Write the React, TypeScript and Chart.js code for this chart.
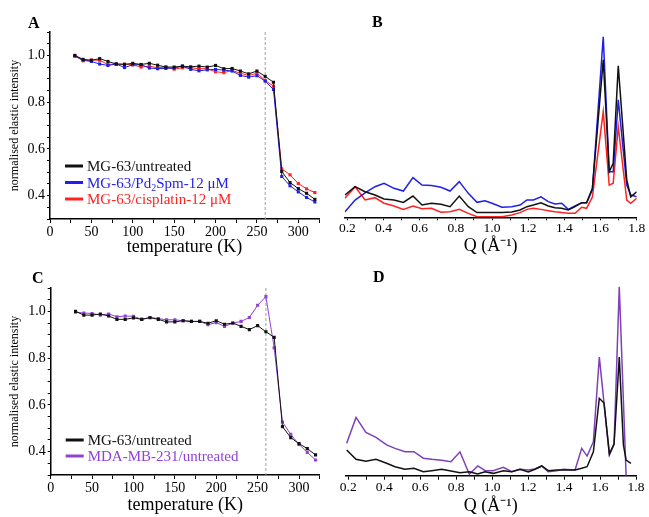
import React, { useEffect, useRef } from 'react';
import { Chart, registerables } from 'chart.js';

Chart.register(...registerables);

const FONT = '"Liberation Serif", "Times New Roman", serif';
Chart.defaults.font.family = FONT;
Chart.defaults.color = '#000';

// ---------- Panel A / C : temperature scans ----------
const tempK = [30, 40, 50, 60, 70, 80, 90, 100, 110, 120, 130, 140, 150, 160, 170, 180, 190, 200, 210, 220, 230, 240, 250, 260, 270, 280, 290, 300, 310, 320];

const aUntreated = [1.0, 0.983, 0.979, 0.986, 0.974, 0.963, 0.961, 0.966, 0.961, 0.966, 0.958, 0.95, 0.95, 0.954, 0.951, 0.954, 0.95, 0.957, 0.943, 0.944, 0.933, 0.921, 0.933, 0.91, 0.885, 0.503, 0.456, 0.43, 0.41, 0.384];
const aPd2Spm = [0.997, 0.979, 0.974, 0.963, 0.957, 0.963, 0.948, 0.96, 0.96, 0.946, 0.943, 0.944, 0.946, 0.954, 0.94, 0.934, 0.938, 0.94, 0.937, 0.933, 0.914, 0.907, 0.913, 0.89, 0.854, 0.482, 0.442, 0.416, 0.392, 0.373];
const aCisplatin = [0.998, 0.977, 0.98, 0.979, 0.961, 0.963, 0.963, 0.96, 0.95, 0.954, 0.947, 0.95, 0.941, 0.947, 0.947, 0.943, 0.943, 0.93, 0.926, 0.936, 0.923, 0.914, 0.923, 0.893, 0.868, 0.515, 0.489, 0.452, 0.429, 0.413];

const cUntreated = [1.0, 0.984, 0.984, 0.989, 0.98, 0.966, 0.966, 0.972, 0.966, 0.973, 0.966, 0.955, 0.955, 0.96, 0.957, 0.957, 0.949, 0.96, 0.945, 0.95, 0.936, 0.922, 0.939, 0.913, 0.889, 0.507, 0.46, 0.434, 0.413, 0.386];
const cMDA = [0.997, 0.993, 0.991, 0.984, 0.989, 0.977, 0.98, 0.979, 0.966, 0.974, 0.969, 0.964, 0.964, 0.96, 0.957, 0.957, 0.943, 0.952, 0.936, 0.949, 0.957, 0.974, 1.026, 1.063, 0.844, 0.527, 0.474, 0.431, 0.397, 0.364];

const transitionK = 260;

// ---------- Panel B / D : Q spectra ----------
const qB = [0.187, 0.243, 0.298, 0.353, 0.403, 0.458, 0.51, 0.563, 0.613, 0.665, 0.718, 0.768, 0.819, 0.869, 0.917, 0.961, 1.0, 1.055, 1.109, 1.155, 1.193, 1.229, 1.271, 1.311, 1.348, 1.385, 1.422, 1.459, 1.496, 1.523, 1.555, 1.615, 1.648, 1.67, 1.698, 1.745, 1.767, 1.8];
const bUntreated = [0.124, 0.17, 0.142, 0.124, 0.102, 0.096, 0.083, 0.118, 0.068, 0.078, 0.072, 0.059, 0.118, 0.059, 0.026, 0.026, 0.026, 0.026, 0.029, 0.041, 0.059, 0.068, 0.081, 0.063, 0.053, 0.05, 0.041, 0.059, 0.081, 0.081, 0.161, 0.874, 0.253, 0.3, 0.841, 0.207, 0.114, 0.142];
const bPd2Spm = [0.031, 0.096, 0.135, 0.17, 0.189, 0.161, 0.146, 0.22, 0.179, 0.176, 0.167, 0.146, 0.198, 0.133, 0.083, 0.092, 0.078, 0.056, 0.059, 0.068, 0.096, 0.096, 0.114, 0.087, 0.074, 0.078, 0.044, 0.063, 0.081, 0.081, 0.152, 1.003, 0.253, 0.253, 0.652, 0.179, 0.124, 0.114];
const bCisplatin = [0.106, 0.17, 0.096, 0.109, 0.078, 0.063, 0.044, 0.063, 0.048, 0.05, 0.028, 0.031, 0.044, 0.022, 0.003, 0.003, 0.003, 0.003, 0.013, 0.026, 0.044, 0.05, 0.044, 0.037, 0.031, 0.026, 0.022, 0.022, 0.056, 0.05, 0.113, 0.587, 0.179, 0.189, 0.503, 0.096, 0.078, 0.106];

const qD = [0.191, 0.243, 0.298, 0.354, 0.413, 0.46, 0.515, 0.565, 0.617, 0.664, 0.719, 0.771, 0.821, 0.873, 0.92, 0.96, 1.006, 1.062, 1.109, 1.155, 1.201, 1.238, 1.276, 1.312, 1.359, 1.396, 1.461, 1.498, 1.528, 1.563, 1.596, 1.622, 1.652, 1.678, 1.707, 1.73, 1.745, 1.772];
const dUntreated = [0.143, 0.091, 0.08, 0.091, 0.069, 0.05, 0.036, 0.041, 0.022, 0.028, 0.036, 0.026, 0.017, 0.022, 0.009, 0.022, 0.013, 0.028, 0.022, 0.036, 0.021, 0.036, 0.054, 0.028, 0.032, 0.032, 0.032, 0.041, 0.05, 0.133, 0.43, 0.404, 0.121, 0.176, 0.659, 0.171, 0.087, 0.069];
const dMDA = [0.18, 0.324, 0.241, 0.213, 0.171, 0.152, 0.133, 0.133, 0.097, 0.091, 0.086, 0.078, 0.133, 0.008, 0.054, 0.029, 0.028, 0.047, 0.022, 0.036, 0.032, 0.037, 0.054, 0.022, 0.028, 0.036, 0.032, 0.152, 0.109, 0.189, 0.659, null, 0.115, 0.176, 1.05, null, 0, null];

// ---------- ticks / labels ----------
const tempTickLabels = [0, 50, 100, 150, 200, 250, 300];
const intensityTickLabels = [0.4, 0.6, 0.8, 1.0];
const qTickLabels = [0.2, 0.4, 0.6, 0.8, 1.0, 1.2, 1.4, 1.6, 1.8];

const labelUntreated = 'MG-63/untreated';
const labelPd2Spm = 'MG-63/Pd₂Spm-12 μM';
const labelCisplatin = 'MG-63/cisplatin-12 μM';
const labelMDA = 'MDA-MB-231/untreated';

const BLACK = '#111111';
const BLUE = '#1f1fe6';
const RED = '#ff2222';
const PURPLE_C = '#9142d6';
const PURPLE_D = '#7e40b8';

function steps(min: number, max: number, step: number): number[] {
  const out: number[] = [];
  const n = Math.round((max - min) / step);
  for (let i = 0; i <= n; i++) out.push(Math.round((min + i * step) * 1000) / 1000);
  return out;
}

const close = (a: number, b: number) => Math.abs(a - b) < 1e-6;

function drawRich(ctx: CanvasRenderingContext2D, text: string, x: number, y: number, size: number) {
  const subs = '₀₁₂₃₄₅₆₇₈₉';
  let cx = x;
  let run = '';
  const flush = () => {
    if (!run) return;
    ctx.font = `${size}px ${FONT}`;
    ctx.fillText(run, cx, y);
    cx += ctx.measureText(run).width;
    run = '';
  };
  for (const ch of text) {
    const i = subs.indexOf(ch);
    if (i >= 0) {
      flush();
      ctx.font = `${Math.round(size * 0.68)}px ${FONT}`;
      ctx.fillText(String(i), cx, y + size * 0.22);
      cx += ctx.measureText(String(i)).width;
    } else run += ch;
  }
  flush();
}

const overlay = {
  id: 'overlay',
  beforeDatasetsDraw(chart: any, _a: any, opts: any) {
    if (opts.marker == null) return;
    const { ctx, chartArea } = chart;
    const x = chart.scales.x.getPixelForValue(opts.marker);
    ctx.save();
    ctx.strokeStyle = '#a0a0a0';
    ctx.lineWidth = 1;
    ctx.setLineDash([3, 2]);
    ctx.beginPath();
    ctx.moveTo(x, chartArea.top);
    ctx.lineTo(x, chartArea.bottom);
    ctx.stroke();
    ctx.restore();
  },
  afterDraw(chart: any, _a: any, opts: any) {
    const { ctx, chartArea } = chart;
    ctx.save();
    ctx.fillStyle = '#000';
    ctx.textBaseline = 'alphabetic';
    ctx.textAlign = 'left';
    ctx.font = `bold 16px ${FONT}`;
    ctx.fillText(opts.letter, opts.letterX, opts.letterY);
    if (opts.legend) {
      const lg = opts.legend;
      chart.data.datasets.forEach((ds: any, i: number) => {
        const y = chartArea.top + lg.top + i * lg.gap;
        ctx.strokeStyle = ds.borderColor;
        ctx.lineWidth = 3;
        ctx.setLineDash([]);
        ctx.beginPath();
        ctx.moveTo(chartArea.left + lg.left, y);
        ctx.lineTo(chartArea.left + lg.left + 18, y);
        ctx.stroke();
        ctx.fillStyle = ds.borderColor;
        drawRich(ctx, ds.label, chartArea.left + lg.left + 22, y + 5, 15);
      });
    }
    ctx.restore();
  },
};

function tempConfig(opts: {
  datasets: any[];
  yWidth: number;
  xHeight: number;
  padding: any;
  titleBottom: number;
  letter: string;
  letterX: number;
  letterY: number;
  legend: any;
}) {
  return {
    type: 'line',
    data: {
      labels: tempK,
      datasets: opts.datasets.map((d) => ({
        label: d.label,
        data: tempK.map((t, i) => ({ x: t, y: d.values[i] })),
        borderColor: d.color,
        backgroundColor: d.color,
        pointBackgroundColor: d.color,
        pointBorderWidth: 0,
        pointStyle: 'rect',
        pointRadius: 2.2,
        borderWidth: 1,
        tension: 0,
        fill: false,
      })),
    },
    options: {
      responsive: false,
      animation: false,
      events: [],
      layout: { padding: opts.padding },
      plugins: {
        legend: { display: false },
        tooltip: { enabled: false },
        overlay: {
          marker: transitionK,
          letter: opts.letter,
          letterX: opts.letterX,
          letterY: opts.letterY,
          legend: opts.legend,
        },
      },
      scales: {
        x: {
          type: 'linear',
          min: 0,
          max: 325,
          afterBuildTicks: (s: any) => {
            s.ticks = steps(0, 325, 25).map((v) => ({ value: v }));
          },
          afterFit: (s: any) => {
            s.height = opts.xHeight;
          },
          ticks: {
            autoSkip: false,
            maxRotation: 0,
            padding: 1,
            font: { size: 14 },
            color: '#000',
            callback: (v: any) => (tempTickLabels.some((t) => close(t, Number(v))) ? String(v) : ''),
          },
          grid: { drawOnChartArea: false, drawTicks: true, tickLength: 4, tickColor: '#000', tickWidth: 1 },
          border: { display: true, color: '#000', width: 1.5 },
          title: {
            display: true,
            text: 'temperature (K)',
            font: { size: 18 },
            color: '#000',
            padding: { top: 0, bottom: opts.titleBottom },
          },
        },
        y: {
          type: 'linear',
          min: 0.3,
          max: 1.1,
          afterBuildTicks: (s: any) => {
            s.ticks = steps(0.3, 1.1, 0.05).map((v) => ({ value: v }));
          },
          afterFit: (s: any) => {
            s.width = opts.yWidth;
          },
          ticks: {
            autoSkip: false,
            padding: 2,
            font: { size: 14 },
            color: '#000',
            callback: (v: any) => {
              const hit = intensityTickLabels.find((t) => close(t, Number(v)));
              return hit !== undefined ? hit.toFixed(1) : '';
            },
          },
          grid: { drawOnChartArea: false, drawTicks: true, tickLength: 3, tickColor: '#000', tickWidth: 1 },
          border: { display: true, color: '#000', width: 1.5 },
          title: {
            display: true,
            text: 'normalised elastic intensity',
            font: { size: 12 },
            color: '#000',
            padding: { top: 8, bottom: 0 },
          },
        },
      },
    },
    plugins: [overlay],
  };
}

function qConfig(opts: {
  q: number[];
  datasets: any[];
  yMax: number;
  xHeight: number;
  padding: any;
  tickLen: number;
  titleBottom: number;
  letter: string;
  letterX: number;
  letterY: number;
}) {
  return {
    type: 'line',
    data: {
      labels: opts.q,
      datasets: opts.datasets.map((d) => ({
        label: d.label,
        data: opts.q.map((q, i) => ({ x: q, y: d.values[i] })),
        borderColor: d.color,
        backgroundColor: d.color,
        pointRadius: 0,
        borderWidth: 1.5,
        tension: 0,
        spanGaps: true,
        fill: false,
      })),
    },
    options: {
      responsive: false,
      animation: false,
      events: [],
      layout: { padding: opts.padding },
      plugins: {
        legend: { display: false },
        tooltip: { enabled: false },
        overlay: { marker: null, letter: opts.letter, letterX: opts.letterX, letterY: opts.letterY, legend: null },
      },
      scales: {
        x: {
          type: 'linear',
          min: 0.185,
          max: 1.8,
          afterBuildTicks: (s: any) => {
            s.ticks = steps(0.2, 1.8, 0.1).map((v) => ({ value: v }));
          },
          afterFit: (s: any) => {
            s.height = opts.xHeight;
          },
          ticks: {
            autoSkip: false,
            maxRotation: 0,
            padding: 0,
            font: { size: 13.5 },
            color: '#000',
            callback: (v: any) => {
              const hit = qTickLabels.find((t) => close(t, Number(v)));
              return hit !== undefined ? hit.toFixed(1) : '';
            },
          },
          grid: { drawOnChartArea: false, drawTicks: true, tickLength: opts.tickLen, tickColor: '#000', tickWidth: 1 },
          border: { display: true, color: '#000', width: 1.5 },
          title: {
            display: true,
            text: 'Q (Å⁻¹)',
            font: { size: 18 },
            color: '#000',
            padding: { top: 0, bottom: opts.titleBottom },
          },
        },
        y: { type: 'linear', display: false, min: 0, max: opts.yMax },
      },
    },
    plugins: [overlay],
  };
}

function Panel(props: { left: number; top: number; width: number; height: number; make: () => any }) {
  const ref = useRef<HTMLCanvasElement>(null);
  useEffect(() => {
    const chart = new Chart(ref.current as HTMLCanvasElement, props.make());
    return () => chart.destroy();
  }, []);
  return (
    <canvas
      ref={ref}
      width={props.width}
      height={props.height}
      style={{ position: 'absolute', left: props.left, top: props.top, width: props.width, height: props.height }}
    />
  );
}

export default function App() {
  return (
    <div style={{ position: 'absolute', left: 0, top: 0, width: 649, height: 517, background: '#fff', overflow: 'hidden' }}>
      <Panel
        left={0}
        top={0}
        width={330}
        height={258}
        make={() =>
          tempConfig({
            datasets: [
              { label: labelUntreated, values: aUntreated, color: BLACK },
              { label: labelPd2Spm, values: aPd2Spm, color: BLUE },
              { label: labelCisplatin, values: aCisplatin, color: RED },
            ],
            yWidth: 50,
            xHeight: 39,
            padding: { left: 0, right: 11, top: 32, bottom: 0 },
            titleBottom: 0.2,
            letter: 'A',
            letterX: 28,
            letterY: 28,
            legend: { left: 15, top: 134, gap: 16.5 },
          })
        }
      />
      <Panel
        left={330}
        top={0}
        width={319}
        height={258}
        make={() =>
          qConfig({
            q: qB,
            datasets: [
              { label: labelUntreated, values: bUntreated, color: BLACK },
              { label: labelPd2Spm, values: bPd2Spm, color: BLUE },
              { label: labelCisplatin, values: bCisplatin, color: RED },
            ],
            yMax: 1.029,
            xHeight: 40.7,
            padding: { left: 14.6, right: 12.3, top: 32, bottom: 0 },
            tickLen: 3,
            titleBottom: 1.2,
            letter: 'B',
            letterX: 42,
            letterY: 27,
          })
        }
      />
      <Panel
        left={0}
        top={258}
        width={330}
        height={259}
        make={() =>
          tempConfig({
            datasets: [
              { label: labelUntreated, values: cUntreated, color: BLACK },
              { label: labelMDA, values: cMDA, color: PURPLE_C },
            ],
            yWidth: 50.7,
            xHeight: 42,
            padding: { left: 0, right: 10.3, top: 30, bottom: 0 },
            titleBottom: 1.2,
            letter: 'C',
            letterX: 32,
            letterY: 25,
            legend: { left: 15, top: 152, gap: 16 },
          })
        }
      />
      <Panel
        left={330}
        top={258}
        width={319}
        height={259}
        make={() =>
          qConfig({
            q: qD,
            datasets: [
              { label: labelUntreated, values: dUntreated, color: BLACK },
              { label: labelMDA, values: dMDA, color: PURPLE_D },
            ],
            yMax: 1.076,
            xHeight: 41.3,
            padding: { left: 15.6, right: 13, top: 24, bottom: 0 },
            tickLen: 4,
            titleBottom: 0,
            letter: 'D',
            letterX: 43,
            letterY: 24,
          })
        }
      />
    </div>
  );
}
